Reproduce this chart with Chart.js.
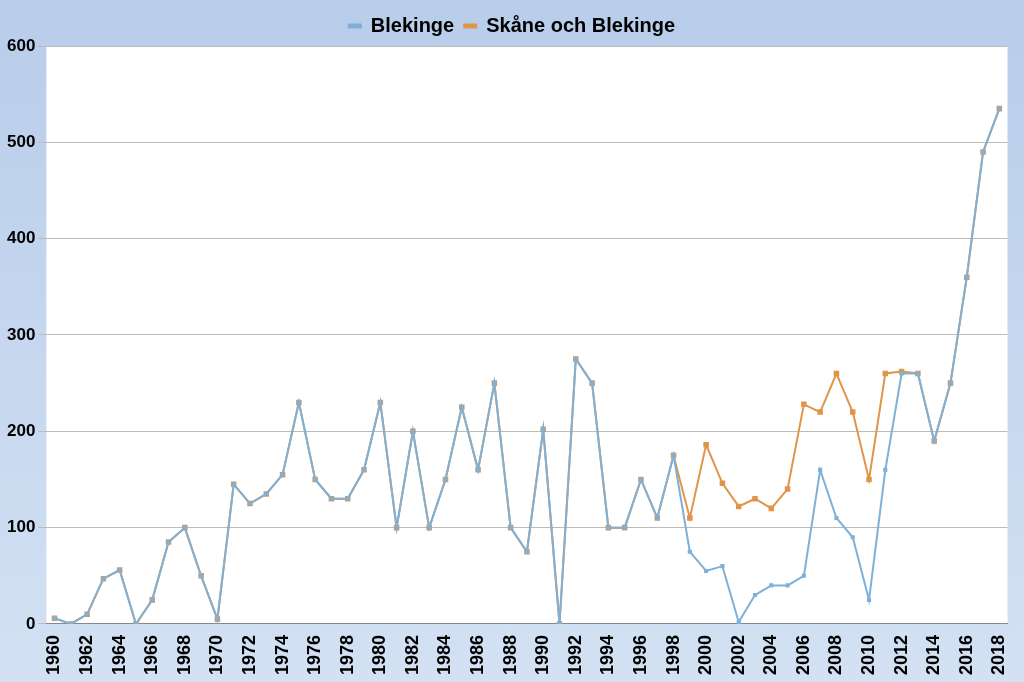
<!DOCTYPE html>
<html><head><meta charset="utf-8">
<script src="https://cdn.jsdelivr.net/npm/chart.js@4/dist/chart.umd.min.js"></script>
<style>
html,body{margin:0;padding:0;}
body{width:1024px;height:682px;background:linear-gradient(#b8cdea,#d3e1f3);}
#wrap{width:1024px;height:682px;}
</style></head>
<body><div id="wrap"><canvas id="c"></canvas></div>
<script>
const years = []
for (let y = 1960; y <= 2018; y++) years.push(String(y))

const blekinge = [6,0,10,47,56,0,25,85,100,50,5,145,125,135,155,230,150,130,130,160,230,100,200,100,150,225,160,250,100,75,202,0,275,250,100,100,150,110,175,75,55,60,2,30,40,40,50,160,110,90,25,160,260,260,190,250,360,490,535]
const skaneBlekinge = [6,0,10,47,56,0,25,85,100,50,5,145,125,135,155,230,150,130,130,160,230,100,200,100,150,225,160,250,100,75,202,0,275,250,100,100,150,110,175,110,186,146,122,130,120,140,228,220,260,220,150,260,262,260,190,250,360,490,535]

const whiteArea = {
  id: 'whiteArea',
  beforeDraw(chart) {
    const { ctx, chartArea: a } = chart
    ctx.save()
    ctx.fillStyle = '#ffffff'
    ctx.fillRect(a.left, a.top, a.right - a.left, a.bottom - a.top)
    ctx.restore()
  },
}

const font = { family: 'Liberation Sans, Arial', weight: 'bold', size: 18 }

new Chart(document.getElementById('c'), {
  type: 'line',
  data: {
    labels: years,
    datasets: [
      {
        label: 'Blekinge',
        data: blekinge,
        borderColor: '#7fb0d8',
        backgroundColor: '#7fb0d8',
        borderWidth: 2,
        pointRadius: 1.5,
        pointStyle: 'rect',
        order: 1,
      },
      {
        label: 'Skåne och Blekinge',
        data: skaneBlekinge,
        borderColor: '#e0954a',
        backgroundColor: '#d9914a',
        borderWidth: 2,
        pointRadius: 2.5,
        pointStyle: 'rect',
        order: 2,
      },
    ],
  },
  options: {
    responsive: true,
    maintainAspectRatio: false,
    animation: false,
    layout: { padding: { top: 6, right: 4, left: 4, bottom: 4 } },
    plugins: {
      legend: {
        position: 'top',
        labels: { font: { ...font, size: 20 }, color: '#000', boxWidth: 12, boxHeight: 3, padding: 10 },
      },
      tooltip: { enabled: false },
    },
    scales: {
      x: {
        offset: true,
        grid: { display: false },
        border: { color: '#888' },
        ticks: {
          autoSkip: false,
          maxRotation: 90,
          minRotation: 90,
          color: '#000',
          font,
          callback: (v, i) => (i % 2 === 0 ? years[i] : ''),
        },
      },
      y: {
        min: 0,
        max: 600,
        grid: { color: '#bbbbbb' },
        border: { display: false },
        ticks: { stepSize: 100, color: '#000', font: { ...font, size: 17 } },
      },
    },
  },
  plugins: [whiteArea],
})
</script></body></html>
